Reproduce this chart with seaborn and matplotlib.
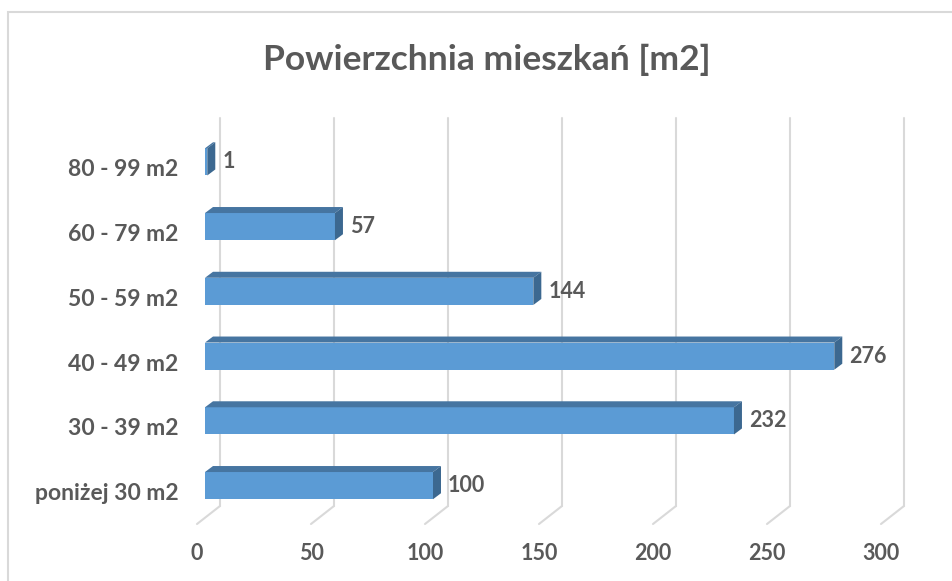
import numpy as np
import matplotlib.pyplot as plt
import seaborn as sns
from matplotlib.patches import Polygon, Rectangle
from matplotlib.transforms import ScaledTranslation, IdentityTransform

# dane z wykresu
kategorie = ["80 - 99 m2", "60 - 79 m2", "50 - 59 m2", "40 - 49 m2", "30 - 39 m2", "poniżej 30 m2"]
liczba = [1, 57, 144, 276, 232, 100]
ticki = [0, 50, 100, 150, 200, 250, 300]

sns.set_theme(style="white")
plt.rcParams['font.family'] = ['Lato', 'DejaVu Sans']

szary = "#595959"
siatka = "#D9D9D9"

fig = plt.figure(figsize=(9.53, 5.81), dpi=100)
W, H = 953, 581
ax = fig.add_axes([197 / W, 1 - 524 / H, 684 / W, 388.5 / H])

sns.barplot(x=liczba, y=kategorie, orient="h", color="#5B9BD5", saturation=1,
            width=0.42, linewidth=0, ax=ax, zorder=3)
ax.set_xlim(0, 300)
ax.set_ylim(5.5, -0.5)
ax.set_xlabel("")
ax.set_ylabel("")
for s in ax.spines.values():
    s.set_visible(False)

px = fig.dpi_scale_trans
glab = (23, 18)   # glebokosc podlogi w pikselach
bar_off = (8, 6)  # przesuniecie przodu slupka
bar_d = (8, 6)    # glebokosc slupka

# siatka na tylnej scianie + linie podlogi
tyl = ax.transData + ScaledTranslation(glab[0] / 100, glab[1] / 100, px)
for t in ticki:
    ax.plot([t, t], [5.5, -0.5], color=siatka, lw=1.5, transform=tyl, zorder=1, clip_on=False)
    x0, y0 = ax.transData.transform((t, 5.5))
    ax.plot([x0, x0 + glab[0]], [y0, y0 + glab[1]], color=siatka, lw=1.5,
            transform=IdentityTransform(), zorder=1, clip_on=False)

# slupki 3D
przod = ax.transData + ScaledTranslation(bar_off[0] / 100, bar_off[1] / 100, px)
for p in ax.patches:
    p.set_transform(przod)
    p.set_clip_on(False)
    p.set_edgecolor("none")
    (xa, ya), (xb, yb) = przod.transform([(p.get_x(), p.get_y()),
                                          (p.get_x() + p.get_width(), p.get_y() + p.get_height())])
    xl, xr = min(xa, xb), max(xa, xb)
    yd, yg = min(ya, yb), max(ya, yb)
    dx, dy = bar_d
    gora = Polygon([(xl, yg), (xr, yg), (xr + dx, yg + dy), (xl + dx, yg + dy)],
                   closed=True, facecolor="#4675A1", edgecolor="none",
                   transform=IdentityTransform(), zorder=4, clip_on=False)
    bok = Polygon([(xr, yd), (xr, yg), (xr + dx, yg + dy), (xr + dx, yd + dy)],
                  closed=True, facecolor="#3C6890", edgecolor="none",
                  transform=IdentityTransform(), zorder=4, clip_on=False)
    ax.add_patch(gora)
    ax.add_patch(bok)

# etykiety wartosci
for i, v in enumerate(liczba):
    ax.annotate(str(v), xy=(v, i), xytext=(23, 6), textcoords="offset pixels",
                ha="left", va="center", fontsize=15.5, fontweight="bold", color=szary,
                annotation_clip=False)

ax.set_xticks(ticki)
ax.tick_params(axis="both", length=0, labelcolor=szary)
ax.tick_params(axis="y", pad=13.5, labelsize=16.5)
ax.tick_params(axis="x", pad=14, labelsize=15.5)
for lab in ax.get_xticklabels() + ax.get_yticklabels():
    lab.set_fontweight("bold")

fig.text(487 / W, 1 - 60 / H, "Powierzchnia mieszkań [m2]", ha="center", va="center",
         fontsize=25.5, fontweight="bold", color=szary)

fig.add_artist(Rectangle((8 / W, -0.1), 1.2, 1 - 12 / H + 0.1, transform=fig.transFigure,
                         facecolor="none", edgecolor=siatka, lw=1.5))

fig.savefig("out.png", dpi=100)
